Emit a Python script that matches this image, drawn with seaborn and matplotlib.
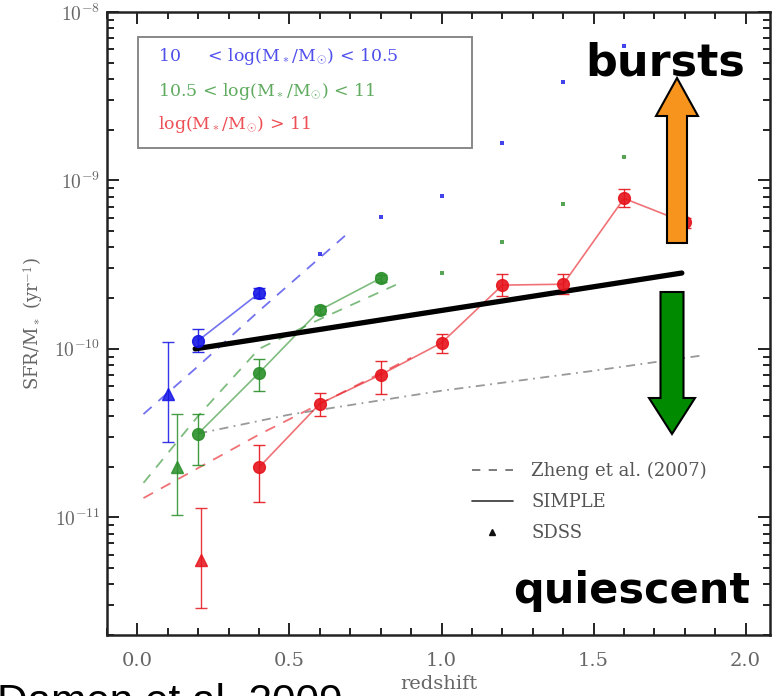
import matplotlib.pyplot as plt
import matplotlib.ticker as ticker
from matplotlib.lines import Line2D
from matplotlib.patches import Polygon, Rectangle
import numpy as np
import seaborn as sns

# SIMPLE stacked measurements (filled circles) : redshift, sSFR, error range
z_blue = [0.2, 0.4]
ssfr_blue = [1.12e-10, 2.14e-10]
lo_blue = [9.6e-11, 2.0e-10]
hi_blue = [1.31e-10, 2.3e-10]

z_green = [0.2, 0.4, 0.6, 0.8]
ssfr_green = [3.14e-11, 7.2e-11, 1.70e-10, 2.63e-10]
lo_green = [2.03e-11, 5.6e-11, 1.6e-10, 2.5e-10]
hi_green = [4.12e-11, 8.7e-11, 1.8e-10, 2.75e-10]

z_red = [0.4, 0.6, 0.8, 1.0, 1.2, 1.4, 1.6, 1.8]
ssfr_red = [1.98e-11, 4.73e-11, 7.02e-11, 1.085e-10, 2.39e-10, 2.42e-10, 7.82e-10, 5.64e-10]
lo_red = [1.23e-11, 4.0e-11, 5.4e-11, 9.5e-11, 2.06e-10, 2.12e-10, 6.92e-10, 5.2e-10]
hi_red = [2.7e-11, 5.5e-11, 8.5e-11, 1.23e-10, 2.78e-10, 2.78e-10, 8.85e-10, 5.96e-10]

# small dots (incomplete bins)
z_blue_dot = [0.6, 0.8, 1.0, 1.2, 1.4, 1.6]
ssfr_blue_dot = [3.65e-10, 6.04e-10, 8.03e-10, 1.66e-9, 3.86e-9, 6.3e-9]
z_green_dot = [1.0, 1.2, 1.4, 1.6]
ssfr_green_dot = [2.82e-10, 4.30e-10, 7.21e-10, 1.37e-9]

# SDSS triangles
z_sdss = [0.10, 0.13, 0.21]
ssfr_sdss = [5.4e-11, 2.0e-11, 5.6e-12]
lo_sdss = [2.8e-11, 1.03e-11, 2.9e-12]
hi_sdss = [1.1e-10, 4.12e-11, 1.13e-11]

# Zheng et al. (2007)
z_zheng_blue = [0.02, 0.2, 0.4, 0.7]
ssfr_zheng_blue = [4.1e-11, 7.9e-11, 1.68e-10, 5.0e-10]
z_zheng_green = [0.02, 0.2, 0.4, 0.6, 0.85]
ssfr_zheng_green = [1.6e-11, 4.0e-11, 1.0e-10, 1.5e-10, 2.4e-10]
z_zheng_red = [0.02, 0.4, 0.9]
ssfr_zheng_red = [1.3e-11, 3.1e-11, 8.85e-11]

# grey dash-dot curve
z_grey = [0.2, 0.5, 1.0, 1.5, 1.85]
ssfr_grey = [3.14e-11, 4.07e-11, 5.64e-11, 7.41e-11, 9.1e-11]

# overlaid black trend line
z_trend = [0.19, 1.79]
ssfr_trend = [1.0e-10, 2.82e-10]

mass_labels = ["10     < log(M$_*$/M$_{\\odot}$) < 10.5",
               "10.5 < log(M$_*$/M$_{\\odot}$) < 11",
               "log(M$_*$/M$_{\\odot}$) > 11"]
legend_labels = ['Zheng et al. (2007)', 'SIMPLE', 'SDSS']

BLUE, GREEN, RED = '#1414e6', '#2a8f2a', '#e6141c'

sns.set_theme(style='ticks')
plt.rcParams['font.family'] = ['DejaVu Serif']
plt.rcParams['mathtext.fontset'] = 'cm'
plt.rcParams['xtick.direction'] = 'in'
plt.rcParams['ytick.direction'] = 'in'

fig = plt.figure(figsize=(7.73, 6.96), dpi=100)
ax = fig.add_axes([107/773, 61/696, 663/773, 623/696])
ax.set_yscale('log')

# Zheng dashed lines and grey curve
for zz, ss, c in [(z_zheng_blue, ssfr_zheng_blue, BLUE),
                  (z_zheng_green, ssfr_zheng_green, GREEN),
                  (z_zheng_red, ssfr_zheng_red, RED)]:
    sns.lineplot(x=zz, y=ss, color=c, lw=1.3, alpha=0.6, ax=ax).lines[-1].set_dashes((6, 5))
sns.lineplot(x=z_grey, y=ssfr_grey, color='#999999', lw=1.3, ax=ax).lines[-1].set_dashes((5, 3, 1, 3))

# SIMPLE connected points
for zz, ss, lo, hi, c in [(z_blue, ssfr_blue, lo_blue, hi_blue, BLUE),
                          (z_green, ssfr_green, lo_green, hi_green, GREEN),
                          (z_red, ssfr_red, lo_red, hi_red, RED)]:
    sns.lineplot(x=zz, y=ss, color=c, lw=1.2, alpha=0.6, ax=ax)
    ss = np.array(ss)
    ax.errorbar(zz, ss, yerr=[ss - np.array(lo), np.array(hi) - ss], fmt='o', color=c,
                ms=8.5, elinewidth=1.0, capsize=4, capthick=1.0, ecolor=c, alpha=0.9)

sns.scatterplot(x=z_blue_dot, y=ssfr_blue_dot, color=BLUE, marker='s', s=5, lw=0, alpha=0.8, ax=ax)
sns.scatterplot(x=z_green_dot, y=ssfr_green_dot, color=GREEN, marker='s', s=5, lw=0, alpha=0.8, ax=ax)

for zz, ss, lo, hi, c in zip(z_sdss, ssfr_sdss, lo_sdss, hi_sdss, [BLUE, GREEN, RED]):
    ax.errorbar([zz], [ss], yerr=[[ss - lo], [hi - ss]], fmt='^', color=c, ms=8,
                elinewidth=1.0, capsize=4, capthick=1.0, alpha=0.85)

sns.lineplot(x=z_trend, y=ssfr_trend, color='black', lw=3.8, ax=ax)

ax.set_xlim(-0.1, 2.08)
ax.set_ylim(2.0e-12, 1e-8)
ax.xaxis.set_major_locator(ticker.MultipleLocator(0.5))
ax.xaxis.set_minor_locator(ticker.MultipleLocator(0.1))
ax.xaxis.set_major_formatter(ticker.FormatStrFormatter('%.1f'))
ax.yaxis.set_major_locator(ticker.LogLocator(base=10, numticks=10))
ax.yaxis.set_minor_locator(ticker.LogLocator(base=10, subs=np.arange(2, 10), numticks=20))
ax.yaxis.set_major_formatter(ticker.FuncFormatter(lambda v, p: r'$10^{%d}$' % round(np.log10(v))))
ax.yaxis.set_minor_formatter(ticker.NullFormatter())
ax.tick_params(which='both', top=True, right=True, width=1.4, color='#222222', labelcolor='#666666')
ax.tick_params(which='major', length=8.5, labelsize=14)
ax.tick_params(axis='x', which='major', pad=12)
ax.tick_params(axis='y', which='major', pad=5)
ax.tick_params(which='minor', length=5)
for sp in ax.spines.values():
    sp.set_linewidth(1.8)
    sp.set_color('#222222')

ax.set_xlabel('redshift', fontsize=14, color='#666666', labelpad=4)
ax.set_ylabel('SFR/M$_*$ (yr$^{-1}$)', fontsize=13, color='#666666', labelpad=6)

# mass bin key: coloured text inside a grey box
ax.add_patch(Rectangle((0.0468, 0.7817), 0.5037, 0.1782, transform=ax.transAxes,
                       fill=False, ec='#888888', lw=1.4, zorder=4))
for lab, c, yy in zip(mass_labels, [BLUE, GREEN, RED], [0.9278, 0.8716, 0.8186]):
    ax.text(0.0769, yy, lab, transform=ax.transAxes, color=c, alpha=0.75,
            fontsize=12.5, va='center', ha='left')

h2 = [Line2D([], [], color='#666666', lw=1.2, dashes=(5, 5)),
      Line2D([], [], color='#333333', lw=1.2),
      Line2D([], [], color='#111111', ls='none', marker='^', ms=4)]
leg2 = ax.legend(h2, legend_labels, loc='upper left',
                 bbox_to_anchor=(0.55, 0.278), borderaxespad=0, borderpad=0, frameon=False,
                 fontsize=13, handlelength=2.3, handletextpad=1.0, labelspacing=0.72)
for t in leg2.get_texts():
    t.set_color('#555555')


# annotation arrows (pixel geometry -> figure fraction)
def block_arrow(xc, y_tail, y_tip, shaft_w, head_w, head_len, color):
    d = 1 if y_tip > y_tail else -1
    yb = y_tip - d * head_len
    pts = [(xc - shaft_w/2, y_tail), (xc - shaft_w/2, yb), (xc - head_w/2, yb), (xc, y_tip),
           (xc + head_w/2, yb), (xc + shaft_w/2, yb), (xc + shaft_w/2, y_tail)]
    pts = [(x/773, 1 - y/696) for x, y in pts]
    fig.patches.append(Polygon(pts, closed=True, fc=color, ec='black', lw=1.5,
                               transform=fig.transFigure, zorder=5))


block_arrow(677, 243, 78, 20, 42, 38, '#f7941d')
block_arrow(672, 292, 434, 23, 46, 36, '#008a00')

fig.text(665/773, 1 - 75/696, 'bursts', ha='center', va='baseline', fontsize=32,
         weight='bold', family='DejaVu Sans', color='black')
fig.text(632/773, 1 - 603/696, 'quiescent', ha='center', va='baseline', fontsize=31,
         weight='bold', family='DejaVu Sans', color='black')
fig.text(343/773, -18/696, 'Damen et al. 2009', ha='right', va='baseline', fontsize=30.5,
         family='Liberation Sans', color='black')

fig.savefig('out.png', dpi=100)
